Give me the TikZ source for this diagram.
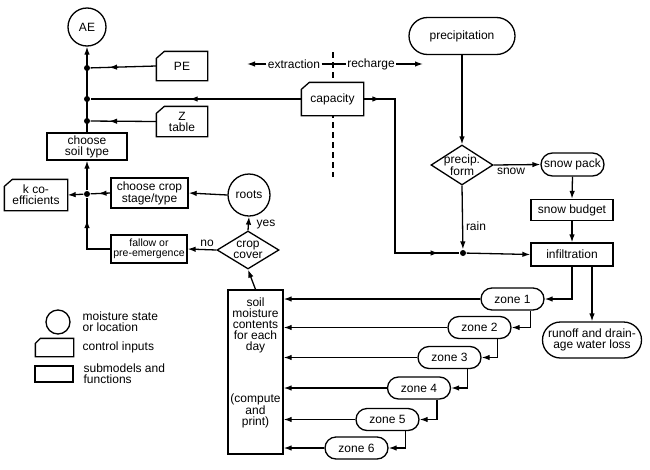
\documentclass[tikz,border=0pt]{standalone}
\usepackage{fontspec}
\setmainfont{Liberation Sans}
\usetikzlibrary{shapes.misc,shapes.geometric,arrows.meta,decorations.markings,calc}
\begin{document}
\begin{tikzpicture}[x=1pt,y=-1pt,line width=1.3pt,
  font=\fontsize{12}{11}\selectfont,
  >={Latex[length=8pt,width=5.5pt]},
  box/.style={draw,rectangle,inner sep=1pt,align=center,fill=white},
  pill/.style={draw,rounded rectangle,inner sep=1pt,align=center,fill=white},
  circ/.style={draw,circle,inner sep=0pt,fill=white},
  ctrl/.style={rectangle,inner sep=1pt,align=center,fill=white},
  dia/.style={draw,diamond,inner sep=-5pt,align=center,fill=white,font=\fontsize{12}{10.5}\selectfont},
  dot/.style={circle,fill,inner sep=0pt,minimum size=6pt},
  lbl/.style={inner sep=1pt},
  midarr/.style={postaction={decorate,decoration={markings,mark=at position #1 with {\arrow{Latex[length=8pt,width=5.5pt]}}}}},
  twoarr/.style 2 args={postaction={decorate,decoration={markings,
     mark=at position #1 with {\arrow{Latex[length=8pt,width=5.5pt]}},
     mark=at position #2 with {\arrow{Latex[length=8pt,width=5.5pt]}}}}}
]
\useasboundingbox (0,0) rectangle (650,469);

% dashed divider
\coordinate (dtop) at (333,52);
\coordinate (dbot) at (333,177);
\draw[dashed,dash pattern=on 6pt off 4pt] (dtop) -- (dbot);

% left column
\node[circ,minimum size=38] (AE) at (87,27) {AE};
\node[ctrl,minimum width=50,minimum height=28] (PE) at (182,66) {PE};
\node[ctrl,minimum width=50,minimum height=29] (Z) at (182,121.5) {Z\\table};
\node[box,minimum width=80,minimum height=27] (soil) at (87,146.5) {choose\\soil type};
\node[ctrl,minimum width=62,minimum height=30] (k) at (36,195) {k co-\\efficients};
\node[box,minimum width=77,minimum height=30] (crop) at (149.5,193) {choose crop\\stage/type};
\node[box,minimum width=76,minimum height=28,font=\fontsize{10.5}{10}\selectfont] (fallow) at (149,249) {fallow or\\pre-emergence};
\node[circ,minimum size=42] (roots) at (249,195) {roots};
\node[dia,minimum width=62,minimum height=38] (cover) at (248,250) {crop\\cover};

\node[dot] (dPE) at (87,68) {};
\node[dot] (dcap) at (87,99) {};
\node[dot] (dZ) at (87,121) {};
\node[dot] (dk) at (87,194) {};

% centre
\node[ctrl,minimum width=61,minimum height=32] (cap) at (332.5,99) {capacity};
\node[lbl] (extr) at (294,64) {extraction};
\node[lbl] (rech) at (371,64) {recharge};

\node[box,minimum width=55,minimum height=164] (soilm) at (255.5,372) {};
\node[align=center,anchor=north,inner sep=0pt] (smtext) at (255.5,297)
  {soil\\moisture\\contents\\for each\\day\\[40pt](compute\\and\\print)};

% right side
\node[pill,minimum width=108,minimum height=37] (precip) at (462,36) {precipitation};
\node[dia,minimum width=62,minimum height=40] (pform) at (462,165) {precip.\\form};
\node[pill,minimum width=65,minimum height=23] (spack) at (572.5,164.5) {snow pack};
\node[box,minimum width=82,minimum height=21] (sbud) at (572,210) {snow budget};
\node[box,minimum width=82,minimum height=23] (infil) at (572,254.5) {infiltration};
\node[pill,minimum width=101,minimum height=36] (runoff) at (592,340) {runoff and drain-\\age water loss};
\node[dot] (drain) at (463,253) {};
\coordinate (capx) at (395,253);

\node[pill,minimum width=65,minimum height=22] (z1) at (512.5,299) {zone 1};
\node[pill,minimum width=65,minimum height=22] (z2) at (479.5,327.5) {zone 2};
\node[pill,minimum width=65,minimum height=22] (z3) at (449.5,357.5) {zone 3};
\node[pill,minimum width=65,minimum height=22] (z4) at (419,388) {zone 4};
\node[pill,minimum width=65,minimum height=22] (z5) at (387.5,419.5) {zone 5};
\node[pill,minimum width=65,minimum height=22] (z6) at (356.5,448) {zone 6};

% legend
\node[circ,minimum size=24] (lcirc) at (58,322) {};
\node[ctrl,minimum width=37,minimum height=17] (lctrl) at (54.5,347.5) {};
\node[box,minimum width=38,minimum height=16] (lbox) at (54,374) {};
\node[anchor=west,align=left,inner sep=0pt] (t1) at (82,322) {moisture state\\or location};
\node[anchor=west,inner sep=0pt] (t2) at (82,347) {control inputs};
\node[anchor=west,align=left,inner sep=0pt] (t3) at (83,374) {submodels and\\functions};

% control-input outlines (cut top-left corner)
\foreach \n in {PE,Z,k,cap}
  \draw ($(\n.north west)+(8,0)$) -- (\n.north east) -- (\n.south east) -- (\n.south west) -- ($(\n.north west)+(0,7)$) -- cycle;
\draw ($(lctrl.north west)+(5,0)$) -- (lctrl.north east) -- (lctrl.south east) -- (lctrl.south west) -- ($(lctrl.north west)+(0,5)$) -- cycle;

% labels
\node[lbl] (yes) at (266,225) {yes};
\node[lbl] (no) at (207,243) {no};
\node[lbl] (snow) at (511,171) {snow};
\node[lbl] (rain) at (476,226) {rain};

% connectors left
\draw[->] (soil.north) -- (AE.south);
\draw[midarr=0.72] (PE.west) -- (dPE);
\draw[midarr=0.53] (cap.west) -- (dcap);
\draw[midarr=0.72] (Z.west) -- (dZ);
\draw[->] (dk) -- (soil.south);
\draw[->] (dk) -- (k.east);
\draw[midarr=0.6] (crop.west) -- (dk);
\draw[->] (roots.west) -- (crop.east);
\draw[->] (cover.north) -- (roots.south);
\draw[->] (cover.west) -- (fallow.east);
\draw[midarr=0.7] (fallow.west) -| (dk);
\draw[->] (soilm.north) -- (cover.south);

% extraction / recharge
\coordinate (exend) at (247,64);
\coordinate (reend) at (423,64);
\draw[->] (extr.west) -- (exend);
\draw (extr.east) -- (rech.west);
\draw[->] (rech.east) -- (reend);

% right connectors
\draw[->] (precip.south) -- (pform.north);
\draw[->] (pform.east) -- (spack.west);
\draw[->] (spack.south) -- (sbud.north);
\draw[->] (sbud.south) -- (infil.north);
\draw[->] (pform.south) -- (drain);
\draw[twoarr={0.067}{0.917}] (cap.east) -| (capx) -- (drain);
\draw[->] (drain) -- (infil.west);
\draw[->] (infil.south -| runoff.north) -- (runoff.north);

% zones
\draw[->] (infil.south) |- (z1.east);
\draw[->] ([xshift=18pt]z1.south) |- (z2.east);
\draw[->] ([xshift=18pt]z2.south) |- (z3.east);
\draw[->] ([xshift=18pt]z3.south) |- (z4.east);
\draw[->] ([xshift=18pt]z4.south) |- (z5.east);
\draw[->] ([xshift=18pt]z5.south) |- (z6.east);
\foreach \z in {z1,z2,z3,z4,z5,z6}
  \draw[->] (\z.west) -- (\z.west -| soilm.east);
\end{tikzpicture}
\end{document}
